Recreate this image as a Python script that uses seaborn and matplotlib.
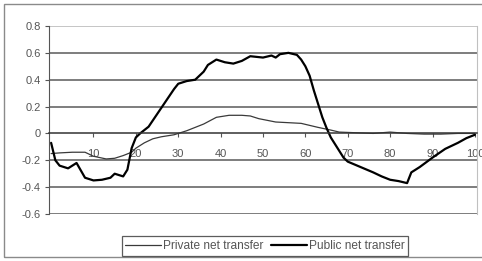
import numpy as np
import pandas as pd
import matplotlib
matplotlib.use("Agg")
import matplotlib.pyplot as plt
import seaborn as sns
from matplotlib.patches import Rectangle

# ── Data ──
pub_age = [0, 1, 2, 4, 6, 8, 10, 12, 14, 15, 17, 18, 19, 20, 21, 23, 26, 29, 30,
           32, 34, 36, 37, 39, 41, 43, 45, 47, 50, 52, 53, 54, 56, 58, 59, 60,
           61, 62, 63, 64, 65, 66, 67, 69, 70, 73, 76, 78, 80, 82, 84, 85, 87,
           90, 93, 96, 98, 100]
pub_val = [-0.07, -0.20, -0.24, -0.26, -0.22, -0.33, -0.35, -0.345, -0.33, -0.30,
           -0.32, -0.27, -0.11, -0.03, 0.00, 0.05, 0.19, 0.33, 0.37, 0.39, 0.40,
           0.46, 0.51, 0.55, 0.53, 0.52, 0.54, 0.575, 0.565, 0.58, 0.565, 0.59,
           0.60, 0.585, 0.55, 0.50, 0.43, 0.32, 0.22, 0.12, 0.04, -0.03, -0.08,
           -0.18, -0.21, -0.25, -0.29, -0.32, -0.345, -0.355, -0.37, -0.29, -0.25,
           -0.18, -0.115, -0.07, -0.035, -0.01]

priv_age = [0, 2, 5, 8, 10, 13, 15, 17, 19, 20, 22, 24, 26, 29, 32, 36, 39, 42,
            45, 47, 49, 53, 56, 59, 63, 66, 68, 72, 76, 80, 84, 88, 92, 96, 100]
priv_val = [-0.15, -0.145, -0.14, -0.14, -0.17, -0.19, -0.185, -0.165, -0.14,
            -0.11, -0.07, -0.04, -0.025, -0.01, 0.02, 0.07, 0.12, 0.135, 0.135,
            0.13, 0.11, 0.085, 0.08, 0.075, 0.045, 0.025, 0.01, 0.005, 0.0, 0.01,
            0.0, -0.005, -0.005, 0.0, 0.0]

y_ticks = [-0.6, -0.4, -0.2, 0, 0.2, 0.4, 0.6, 0.8]
y_labels = ["-0.6", "-0.4", "-0.2", "0", "0.2", "0.4", "0.6", "0.8"]
x_ticks = [10, 20, 30, 40, 50, 60, 70, 80, 90, 100]

priv = pd.DataFrame({"age": priv_age, "value": priv_val})
pub = pd.DataFrame({"age": pub_age, "value": pub_val})

# ── Plot ──
sns.set_style("white")
plt.rcParams['font.family'] = ['Liberation Sans', 'DejaVu Sans']

fig = plt.figure(figsize=(4.82, 2.61), dpi=100)
ax = fig.add_axes([49 / 482, 1 - 214 / 261, 428 / 482, 188 / 261])

# chart-area border
fig.patches.append(Rectangle((4 / 482, 4 / 261), 1.0, 253 / 261,
                             transform=fig.transFigure, fill=False,
                             edgecolor="#8a8a8a", linewidth=1.0))

for y in y_ticks:
    if y == 0:
        continue
    ax.axhline(y, color="#5a5a5a" if y != 0.8 else "#b5b5b5",
               linewidth=1.1, zorder=0)

sns.lineplot(data=priv, x="age", y="value", ax=ax, color="#3a3a3a",
             linewidth=0.9, label="Private net transfer")
sns.lineplot(data=pub, x="age", y="value", ax=ax, color="black",
             linewidth=1.6, label="Public net transfer")

ax.set_xlim(-0.5, 100.5)
ax.set_ylim(-0.6, 0.8)
ax.set_yticks(y_ticks)
ax.set_yticklabels(y_labels)
ax.set_xticks(x_ticks)
ax.set_xticklabels([str(x) for x in x_ticks])
ax.set_xlabel("")
ax.set_ylabel("")

ax.spines['bottom'].set_position(('data', 0))
ax.spines['bottom'].set_color("#333333")
ax.spines['bottom'].set_linewidth(1.1)
ax.spines['left'].set_color("#555555")
ax.spines['top'].set_visible(False)
ax.spines['right'].set_color("#c0c0c0")

ax.tick_params(axis='y', direction='out', length=3, width=0.8, color="#555555",
               labelsize=8, labelcolor="#555555", pad=3, left=True)
ax.tick_params(axis='x', direction='out', length=3, width=0.8, color="#555555",
               labelsize=8, labelcolor="#555555", pad=8, bottom=True)

ax.legend_.remove()
h, l = ax.get_legend_handles_labels()
leg = fig.legend(h, l, loc='center', bbox_to_anchor=(265 / 482, 1 - 246 / 261),
                 ncol=2, fontsize=8.6, frameon=True, fancybox=False,
                 handlelength=3.0, handletextpad=0.2, columnspacing=0.6,
                 borderpad=0.3, labelcolor="#555555")
leg.get_frame().set_edgecolor("#333333")
leg.get_frame().set_linewidth(0.9)

fig.savefig("out.png", dpi=100, facecolor="white")
